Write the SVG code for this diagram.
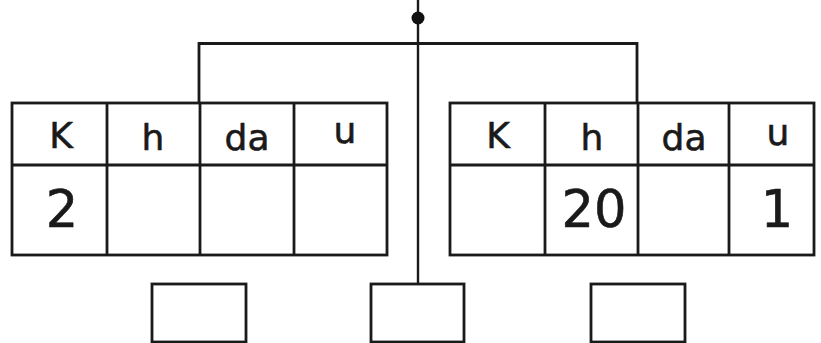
<svg xmlns="http://www.w3.org/2000/svg" width="821" height="343" viewBox="0 0 821 343">
<style>
.ln{stroke:#1a1a1a;stroke-width:2.8;fill:none}
.bx{stroke:#1a1a1a;stroke-width:2.8;fill:#fff}
.hd{font-family:"DejaVu Sans",sans-serif;font-size:36px;fill:#1a1a1a;stroke:#1a1a1a;stroke-width:0.6;text-anchor:middle}
.nm{font-family:"DejaVu Sans",sans-serif;font-size:51px;fill:#1a1a1a;stroke:#1a1a1a;stroke-width:0.6;text-anchor:middle}
</style>
<rect width="821" height="343" fill="#fff"/>
<g id="connectors">
<line class="ln" x1="418" y1="0" x2="418" y2="284" style="stroke-width:2.4"/>
<polyline class="ln" points="199,103 199,43.5 637,43.5 637,103"/>
<circle cx="418" cy="18" r="6.5" fill="#111"/>
</g>
<g id="table-left">
<rect class="bx" x="12" y="103" width="375" height="152"/>
<line class="ln" x1="12" y1="165" x2="387" y2="165"/>
<line class="ln" x1="107" y1="103" x2="107" y2="255"/>
<line class="ln" x1="200" y1="103" x2="200" y2="255"/>
<line class="ln" x1="294" y1="103" x2="294" y2="255"/>
<text class="hd" x="61" y="148">K</text>
<text class="hd" x="153" y="150">h</text>
<text class="hd" x="247" y="150">da</text>
<text class="hd" x="345" y="143">u</text>
<text class="nm" x="62" y="227">2</text>
</g>
<g id="table-right">
<rect class="bx" x="450" y="103" width="364" height="152"/>
<line class="ln" x1="450" y1="165" x2="814" y2="165"/>
<line class="ln" x1="545" y1="103" x2="545" y2="255"/>
<line class="ln" x1="638" y1="103" x2="638" y2="255"/>
<line class="ln" x1="729" y1="103" x2="729" y2="255"/>
<text class="hd" x="498" y="148">K</text>
<text class="hd" x="592" y="150">h</text>
<text class="hd" x="684" y="150">da</text>
<text class="hd" x="778" y="145">u</text>
<text class="nm" x="594" y="227">20</text>
<text class="nm" x="777" y="227">1</text>
</g>
<g id="box-left"><rect class="bx" x="152" y="284" width="94" height="58"/></g>
<g id="box-center"><rect class="bx" x="371" y="284" width="93" height="58"/></g>
<g id="box-right"><rect class="bx" x="591" y="284" width="94" height="58"/></g>
</svg>
